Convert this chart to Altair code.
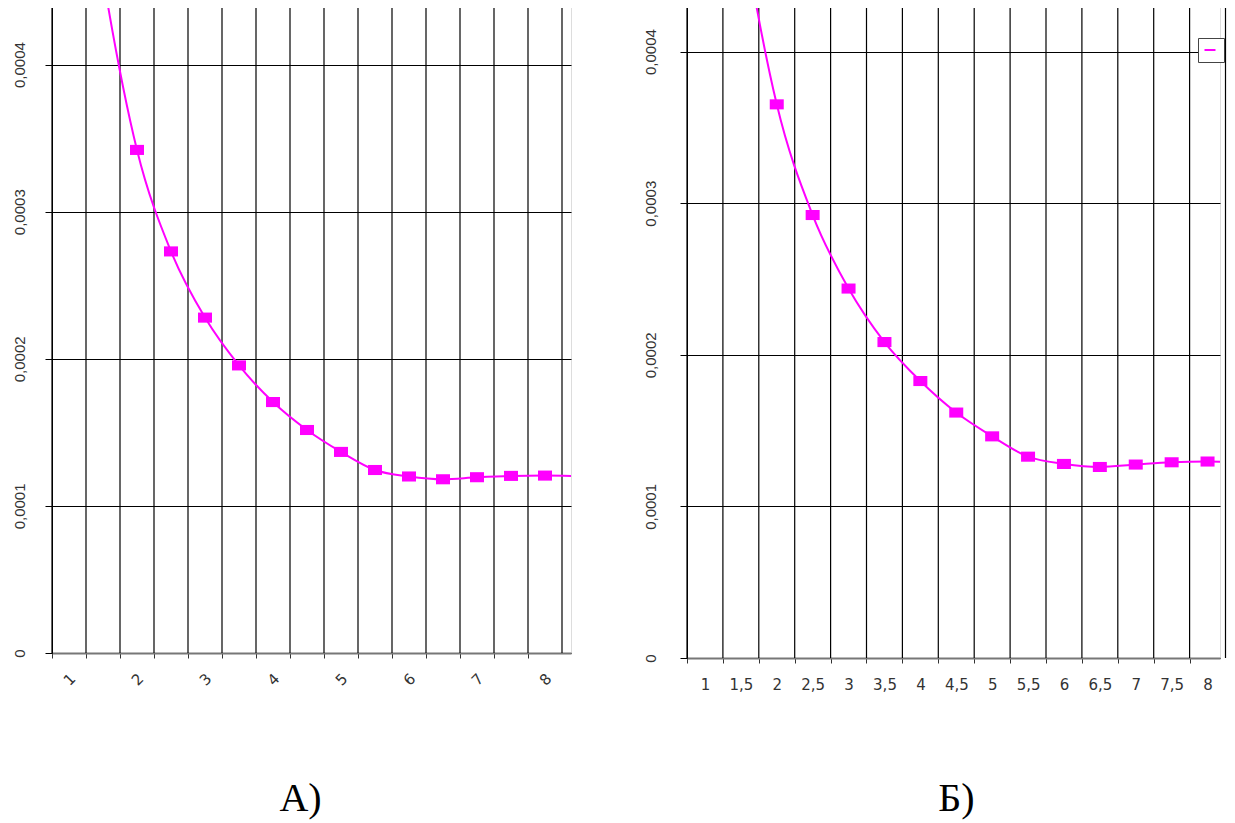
import altair as alt
import pandas as pd

# ---- data ----
x_values = [1, 1.5, 2, 2.5, 3, 3.5, 4, 4.5, 5, 5.5, 6, 6.5, 7, 7.5, 8, 8.5]
a_values = [0.00062, 0.00046, 0.000342, 0.000273, 0.000228, 0.0001955, 0.0001706,
            0.0001516, 0.0001367, 0.0001244, 0.00012, 0.0001181, 0.0001195,
            0.0001204, 0.0001206, 0.0001202]
b_values = [0.00066, 0.00049, 0.0003652, 0.0002922, 0.0002437, 0.0002084, 0.0001827,
            0.0001619, 0.0001462, 0.0001328, 0.000128, 0.000126, 0.0001276,
            0.0001291, 0.0001296, 0.0001286]
y_ticks = [0, 0.0001, 0.0002, 0.0003, 0.0004]
captions = ["А)", "Б)"]
series_name = "Ряд1"

# category boundaries (Excel-style category axis, gridlines between categories)
boundaries = [v - 0.25 for v in x_values if v <= 8] + [8.25]
label_bounds = [b for b in boundaries if b < 8.2]

MAGENTA = "#FF00FF"
Y_LABEL = "datum.value == 0 ? '0' : replace(format(datum.value, '.4f'), '.', ',')"


def panel(values, width, height, xmax, ymax, x_label_expr, x_label_angle,
          label_offset, y_label_pad, caption, title_offset, title_dx, legend):
    xs = alt.Scale(domain=[0.75, xmax], nice=False, zero=False)
    ys = alt.Scale(domain=[0, ymax], nice=False, zero=True)
    df = pd.DataFrame({"x": x_values, "v": values, "s": [series_name] * len(x_values)})
    gdf = pd.DataFrame({"x": boundaries})

    x_axis = alt.Axis(
        values=label_bounds, grid=False, ticks=True, tickSize=5, tickColor="#333333",
        domain=True, domainColor="#777777", domainWidth=2,
        labelExpr=x_label_expr, labelOffset=label_offset, labelAngle=x_label_angle,
        labelAlign="center", labelBaseline="middle", labelPadding=21,
        labelFont="DejaVu Sans", labelFontSize=15, labelColor="#333333",
        labelOverlap=False, labelFlush=False, labelBound=False, title=None)

    y_axis = alt.Axis(values=y_ticks, grid=True, gridColor="#000000", gridOpacity=1,
                      gridWidth=1, tickSize=7, tickColor="#000000", domainColor="#000000",
                      domainWidth=1, labelExpr=Y_LABEL, labelAngle=270, labelAlign="center",
                      labelBaseline="middle", labelPadding=y_label_pad,
                      labelFont="Liberation Sans", labelFontSize=15, labelColor="#333333",
                      title=None)

    grid = alt.Chart(gdf).mark_rule(color="#000000", strokeWidth=1.2).encode(
        x=alt.X("x:Q", scale=xs, axis=x_axis)
    )

    line_enc = dict(
        x=alt.X("x:Q", scale=xs, axis=x_axis),
        y=alt.Y("v:Q", scale=ys, axis=y_axis),
    )
    if legend:
        line_enc["color"] = alt.Color("s:N", scale=alt.Scale(range=[MAGENTA]), legend=alt.Legend(
            orient="none", legendX=1146, legendY=31, title=None, symbolType="stroke",
            symbolSize=121, symbolStrokeWidth=2, labelExpr="''", labelFontSize=16,
            padding=4, strokeColor="#444444", fillColor="white", labelOffset=0))
    line = alt.Chart(df).mark_line(color=MAGENTA, strokeWidth=2, interpolate="monotone",
                                   clip=True).encode(**line_enc)

    pts = alt.Chart(df).mark_point(
        shape="M-1,-0.72L1,-0.72L1,0.72L-1,0.72Z", size=196, filled=True, fill=MAGENTA,
        opacity=1, strokeWidth=0, clip=True
    ).encode(x=alt.X("x:Q", scale=xs, axis=x_axis), y=alt.Y("v:Q", scale=ys, axis=y_axis))

    return alt.layer(grid, line, pts).properties(
        width=width, height=height,
        title=alt.TitleParams(caption, orient="bottom", anchor="middle", frame="group",
                              font="Liberation Serif", fontSize=40, fontWeight="normal",
                              color="black", baseline="alphabetic", offset=title_offset,
                              dx=title_dx),
    )


a_expr = ("(datum.value + 0.25) % 1 == 0 ? toString(datum.value + 0.25) : ''")
b_expr = ("replace(toString(datum.value + 0.25), '.', ',')")

panel_a = panel(a_values, 519, 646, 0.75 + 519 / 68, 646 / 1471000, a_expr, 315, 17, 26,
                captions[0], 123, -11, False)
panel_b = panel(b_values, 533, 651, 0.75 + 533 / 71.8, 651 / 1516000, b_expr, 0, 18, 30,
                captions[1], 119, 3, True)

chart = alt.hconcat(panel_a, panel_b, spacing=70).properties(
    padding={"left": 3, "top": -3, "right": 0, "bottom": 0}
).configure_view(stroke=None).configure(background="white")

chart.save("out.html", embed_options={"renderer": "svg", "actions": False})
